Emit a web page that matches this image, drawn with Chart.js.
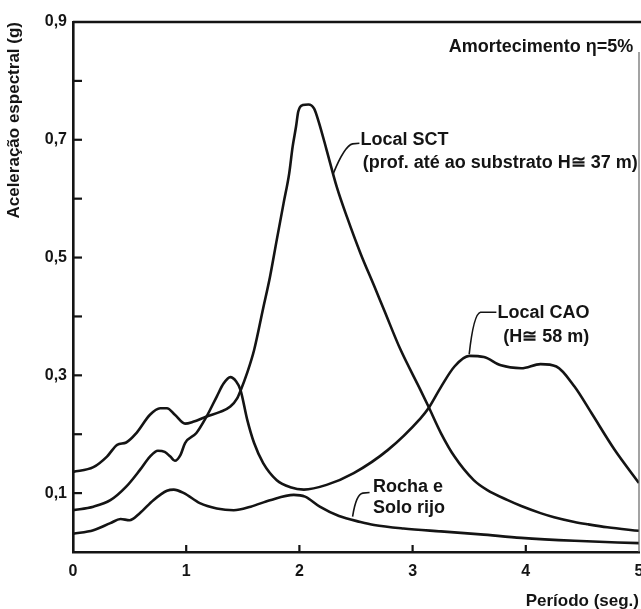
<!DOCTYPE html>
<html>
<head>
<meta charset="utf-8">
<script src="https://cdn.jsdelivr.net/npm/chart.js@4.4.1/dist/chart.umd.min.js"></script>
<style>
  body { margin: 0; background: #fff; }
  #wrap { width: 641px; height: 609px; }
</style>
</head>
<body>
<div id="wrap"><canvas id="spectra" width="641" height="609"></canvas></div>
<script>
// periods (s) and spectral accelerations (g)
const sctPeriod = [0, 0.18, 0.30, 0.39, 0.47, 0.56, 0.68, 0.77, 0.83, 0.90, 0.99, 1.06, 1.18, 1.30, 1.39, 1.45, 1.48, 1.54, 1.60, 1.68, 1.74, 1.80, 1.86, 1.91, 1.94, 1.97, 1.99, 2.03, 2.08, 2.13, 2.17, 2.24, 2.33, 2.42, 2.54, 2.66, 2.75, 2.89, 3.07, 3.14, 3.25, 3.37, 3.54, 3.66, 3.84, 3.96, 4.13, 4.25, 4.43, 4.55, 4.72, 5.0]
const sctAccel = [0.136, 0.144, 0.162, 0.182, 0.186, 0.202, 0.233, 0.244, 0.244, 0.233, 0.218, 0.221, 0.230, 0.238, 0.247, 0.261, 0.274, 0.305, 0.343, 0.414, 0.467, 0.530, 0.592, 0.643, 0.688, 0.722, 0.748, 0.759, 0.760, 0.753, 0.731, 0.683, 0.620, 0.569, 0.507, 0.452, 0.410, 0.345, 0.275, 0.247, 0.202, 0.162, 0.122, 0.105, 0.088, 0.078, 0.066, 0.059, 0.051, 0.047, 0.042, 0.036]

const caoPeriod = [0, 0.18, 0.33, 0.47, 0.59, 0.68, 0.75, 0.81, 0.86, 0.90, 0.95, 0.99, 1.09, 1.18, 1.27, 1.33, 1.39, 1.44, 1.48, 1.54, 1.60, 1.68, 1.80, 1.92, 2.04, 2.24, 2.48, 2.78, 3.07, 3.14, 3.25, 3.37, 3.50, 3.63, 3.78, 3.96, 4.13, 4.27, 4.43, 4.58, 4.78, 5.0]
const caoAccel = [0.071, 0.077, 0.088, 0.111, 0.139, 0.162, 0.172, 0.170, 0.162, 0.155, 0.165, 0.185, 0.202, 0.230, 0.264, 0.286, 0.297, 0.290, 0.275, 0.224, 0.185, 0.151, 0.122, 0.110, 0.106, 0.114, 0.134, 0.173, 0.227, 0.244, 0.280, 0.315, 0.333, 0.331, 0.317, 0.312, 0.319, 0.315, 0.281, 0.236, 0.175, 0.117]

const rochaPeriod = [0, 0.18, 0.33, 0.42, 0.50, 0.59, 0.71, 0.83, 0.89, 0.98, 1.12, 1.27, 1.42, 1.57, 1.74, 1.95, 2.05, 2.18, 2.35, 2.54, 2.66, 2.92, 3.25, 3.60, 3.96, 4.43, 5.0]
const rochaAccel = [0.031, 0.037, 0.049, 0.056, 0.054, 0.066, 0.088, 0.104, 0.106, 0.100, 0.083, 0.074, 0.071, 0.077, 0.088, 0.097, 0.094, 0.077, 0.061, 0.051, 0.046, 0.040, 0.035, 0.030, 0.024, 0.019, 0.015]

const periodTicks = [0, 1, 2, 3, 4, 5]
const accelTicks = [0.1, 0.3, 0.5, 0.7, 0.9]

const ink = '#141414'
const fontFamily = "'Liberation Sans', Arial, sans-serif"

const toPoints = (xs, ys) => xs.map((x, i) => ({ x, y: ys[i] }))

const curve = (label, xs, ys) => ({
  label,
  data: toPoints(xs, ys),
  borderColor: ink,
  borderWidth: 2.6,
  pointRadius: 0,
  fill: false,
  cubicInterpolationMode: 'monotone',
})

// frame, inward ticks and the hand-lettered notes
const frameAndNotes = {
  id: 'frameAndNotes',
  afterDraw(chart) {
    const { ctx, chartArea: area, scales: { x, y } } = chart
    ctx.save()
    ctx.strokeStyle = ink
    ctx.lineWidth = 2.4
    ctx.beginPath()
    ctx.moveTo(area.left, area.top)
    ctx.lineTo(chart.width, area.top)
    ctx.stroke()

    ctx.lineWidth = 1.2
    ctx.strokeStyle = '#666'
    ctx.beginPath()
    ctx.moveTo(area.right, area.top + 30)
    ctx.lineTo(area.right, area.bottom)
    ctx.stroke()

    // inward ticks
    ctx.strokeStyle = ink
    ctx.lineWidth = 2.2
    for (let v = 1; v <= 8; v++) {
      const py = y.getPixelForValue(v / 10)
      ctx.beginPath()
      ctx.moveTo(area.left, py)
      ctx.lineTo(area.left + 9, py)
      ctx.stroke()
    }
    periodTicks.slice(1, -1).forEach((t) => {
      const px = x.getPixelForValue(t)
      ctx.beginPath()
      ctx.moveTo(px, area.bottom)
      ctx.lineTo(px, area.bottom - 7)
      ctx.stroke()
    })

    // leader hooks
    const P = (a, b) => [x.getPixelForValue(a), y.getPixelForValue(b)]
    const hook = (p0, p1, p2, p3) => {
      ctx.beginPath()
      ctx.moveTo(...P(...p0))
      ctx.quadraticCurveTo(...P(...p1), ...P(...p2))
      ctx.lineTo(...P(...p3))
      ctx.stroke()
    }
    ctx.lineWidth = 1.6
    hook([2.30, 0.643], [2.40, 0.690], [2.47, 0.693], [2.53, 0.694])
    hook([3.50, 0.336], [3.54, 0.405], [3.60, 0.407], [3.74, 0.407])
    hook([2.47, 0.060], [2.50, 0.098], [2.56, 0.100], [2.62, 0.101])

    ctx.fillStyle = ink
    ctx.font = `bold 18px ${fontFamily}`
    ctx.textBaseline = 'middle'
    ctx.textAlign = 'right'
    ctx.fillText('Amortecimento η=5%', ...P(4.95, 0.857))
    ctx.textAlign = 'left'
    ctx.fillText('Local SCT', ...P(2.54, 0.700))
    ctx.fillText('(prof. até ao substrato H≅ 37 m)', ...P(2.56, 0.661))
    ctx.fillText('Local CAO', ...P(3.75, 0.406))
    ctx.fillText('(H≅ 58 m)', ...P(3.80, 0.365))
    ctx.fillText('Rocha e', ...P(2.65, 0.110))
    ctx.fillText('Solo rijo', ...P(2.65, 0.075))
    ctx.restore()
  },
}

const ctx = document.getElementById('spectra').getContext('2d')
const spectraChart = new Chart(ctx, {
  type: 'line',
  data: {
    datasets: [
      curve('Local SCT', sctPeriod, sctAccel),
      curve('Local CAO', caoPeriod, caoAccel),
      curve('Rocha e Solo rijo', rochaPeriod, rochaAccel),
    ],
  },
  options: {
    responsive: false,
    animation: false,
    devicePixelRatio: 1,
    layout: { padding: { top: 22, right: 2, left: 0, bottom: 0 } },
    plugins: { legend: { display: false }, tooltip: { enabled: false } },
    scales: {
      x: {
        type: 'linear',
        min: 0,
        max: 5,
        afterFit: (scale) => {
          scale.height = 57
          scale.paddingLeft = 0
          scale.paddingRight = 0
        },
        afterBuildTicks: (scale) => { scale.ticks = periodTicks.map((value) => ({ value })) },
        grid: { display: false, drawTicks: false },
        border: { display: true, color: ink, width: 2.6 },
        ticks: {
          autoSkip: false,
          maxRotation: 0,
          padding: 10,
          color: ink,
          font: { family: fontFamily, size: 16, weight: 'bold' },
          callback: (v) => String(v),
        },
        title: {
          display: true,
          text: 'Período (seg.)',
          align: 'end',
          color: ink,
          font: { family: fontFamily, size: 17, weight: 'bold', lineHeight: 1 },
          padding: { top: 0, bottom: -1 },
        },
      },
      y: {
        type: 'linear',
        min: 0,
        max: 0.9,
        afterFit: (scale) => {
          scale.width = 73
          scale.paddingTop = 0
          scale.paddingBottom = 0
        },
        afterBuildTicks: (scale) => { scale.ticks = accelTicks.map((value) => ({ value })) },
        grid: { display: false, drawTicks: false },
        border: { display: true, color: ink, width: 2.6 },
        ticks: {
          autoSkip: false,
          padding: 6,
          color: ink,
          font: { family: fontFamily, size: 16, weight: 'bold' },
          callback: (v) => v.toFixed(1).replace('.', ','),
        },
        title: {
          display: true,
          text: 'Aceleração espectral (g)',
          align: 'end',
          color: ink,
          font: { family: fontFamily, size: 17, weight: 'bold' },
          padding: { top: 4, bottom: 0 },
        },
      },
    },
  },
  plugins: [frameAndNotes],
})
</script>
</body>
</html>
